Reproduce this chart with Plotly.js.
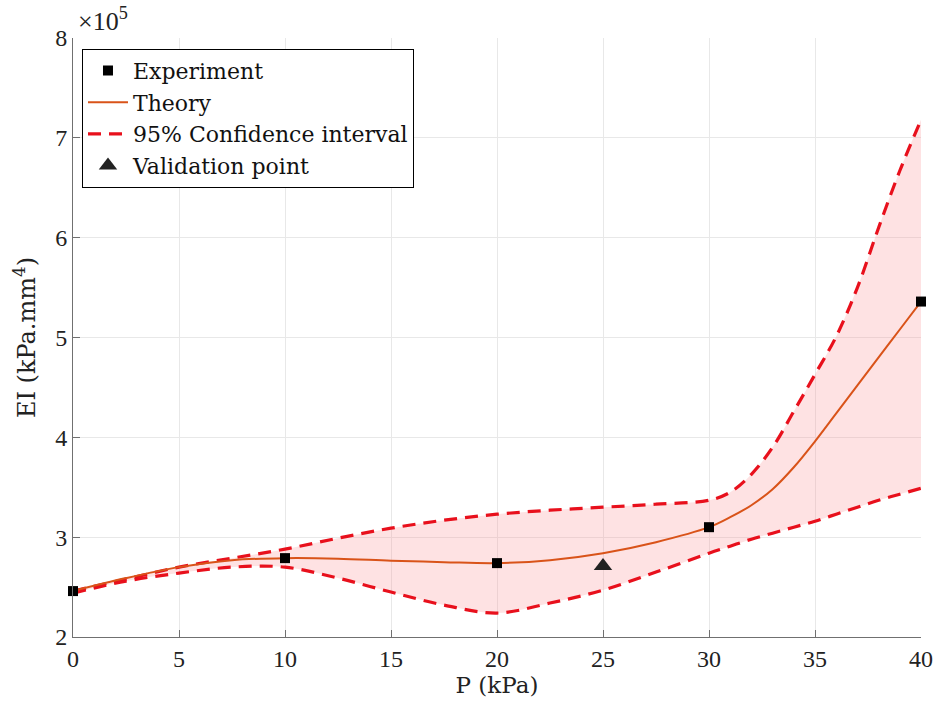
<!DOCTYPE html>
<html>
<head>
<meta charset="utf-8">
<script src="https://cdn.plot.ly/plotly-3.0.1.min.js"></script>
<style>html,body{margin:0;padding:0;background:#fff;}#chart{width:938px;height:715px;}</style>
</head>
<body>
<div id="chart"></div>
<script>
// Values in units of 1e5 kPa.mm^4
const expP = [0, 10, 20, 30, 40];
const expEI = [2.46, 2.79, 2.74, 3.10, 5.36];

const valP = [25];
const valEI = [2.71];

const theoryP = [0, 2.5, 5, 7.5, 10, 12.5, 15, 17.5, 20, 22.5, 25, 27.5, 30, 31, 32, 33, 34, 35, 36, 37, 38, 39, 40];
const theoryEI = [2.46, 2.59, 2.70, 2.77, 2.79, 2.785, 2.765, 2.75, 2.74, 2.77, 2.84, 2.95, 3.10, 3.20, 3.32, 3.48, 3.70, 3.96, 4.24, 4.52, 4.80, 5.08, 5.36];

const ciP = [0, 2.5, 5, 7.5, 10, 12.5, 15, 17.5, 20, 22.5, 25, 27.5, 30, 31, 32, 33, 34, 35, 36, 37, 38, 39, 40];
const ciUpper = [2.46, 2.58, 2.70, 2.79, 2.88, 2.99, 3.09, 3.17, 3.23, 3.27, 3.30, 3.33, 3.37, 3.45, 3.63, 3.90, 4.26, 4.63, 5.01, 5.50, 6.10, 6.67, 7.18];
const ciLower = [2.44, 2.56, 2.64, 2.70, 2.70, 2.59, 2.45, 2.32, 2.24, 2.34, 2.47, 2.65, 2.84, 2.91, 2.98, 3.04, 3.10, 3.16, 3.23, 3.30, 3.37, 3.43, 3.49];

const xTicks = [0, 5, 10, 15, 20, 25, 30, 35, 40];
const yTicks = [2, 3, 4, 5, 6, 7, 8];

const TICKFONT = 'Liberation Serif, Times New Roman, serif';
const TEXTFONT = 'DejaVu Serif, Liberation Serif, serif';
const RED = '#e8101c';

const traces = [
  {x: ciP, y: ciLower, mode: 'lines', line: {width: 0, shape: 'spline'}, showlegend: false, hoverinfo: 'skip'},
  {x: ciP, y: ciUpper, mode: 'lines', line: {width: 0, shape: 'spline'}, fill: 'tonexty', fillcolor: 'rgba(250,150,155,0.28)', showlegend: false, hoverinfo: 'skip'},
  {x: ciP, y: ciUpper, mode: 'lines', name: '95% Confidence interval', legendrank: 3,
   line: {color: RED, width: 3.2, dash: '13px,8px', shape: 'spline'}},
  {x: ciP, y: ciLower, mode: 'lines', showlegend: false,
   line: {color: RED, width: 3.2, dash: '13px,8px', shape: 'spline'}},
  {x: theoryP, y: theoryEI, mode: 'lines', name: 'Theory', legendrank: 2,
   line: {color: '#D95319', width: 2, shape: 'spline'}},
  {x: expP, y: expEI, mode: 'markers', name: 'Experiment', legendrank: 1, cliponaxis: false,
   marker: {symbol: 'square', size: 10, color: '#000', line: {color: '#000', width: 0}}},
  {x: valP, y: valEI, mode: 'markers', name: 'Validation point', legendrank: 4, cliponaxis: false,
   marker: {symbol: 'triangle-up', size: 16, color: '#222', line: {width: 0}}}
];

const layout = {
  width: 938, height: 715,
  margin: {l: 73, r: 17, t: 38, b: 78},
  paper_bgcolor: '#fff', plot_bgcolor: '#fff',
  font: {family: TICKFONT, size: 23, color: '#222'},
  xaxis: {
    range: [0, 40], tickvals: xTicks, ticktext: xTicks.map(String),
    showgrid: true, gridcolor: '#e8e8e8', gridwidth: 1, zeroline: false,
    showline: true, linecolor: '#707070', linewidth: 1,
    ticks: 'inside', ticklen: 7, tickcolor: '#707070',
    tickfont: {family: TICKFONT, size: 24, color: '#222'},
    title: {text: 'P (kPa)', font: {family: TEXTFONT, size: 23, color: '#222'}, standoff: 6}
  },
  yaxis: {
    range: [2, 8], tickvals: yTicks, ticktext: yTicks.map(String),
    showgrid: true, gridcolor: '#e8e8e8', gridwidth: 1, zeroline: false,
    showline: true, linecolor: '#707070', linewidth: 1,
    ticks: 'inside', ticklen: 7, tickcolor: '#707070',
    tickfont: {family: TICKFONT, size: 24, color: '#222'},
    title: {text: 'EI (kPa.mm<sup>4</sup>)', font: {family: TEXTFONT, size: 24, color: '#222'}, standoff: 12}
  },
  legend: {
    x: 0.0106, y: 0.982, xanchor: 'left', yanchor: 'top', traceorder: 'normal',
    bgcolor: '#fff', bordercolor: '#000', borderwidth: 1,
    font: {family: TEXTFONT, size: 22, color: '#111'},
    tracegroupgap: 0, itemwidth: 40
  },
  annotations: [{
    xref: 'paper', yref: 'paper', x: 0.004, y: 1.0, xanchor: 'left', yanchor: 'bottom',
    text: '×10<sup>5</sup>', showarrow: false, font: {family: TICKFONT, size: 26, color: '#222'}
  }],
  showlegend: true
};

Plotly.newPlot('chart', traces, layout, {displayModeBar: false, staticPlot: true});
</script>
</body>
</html>
